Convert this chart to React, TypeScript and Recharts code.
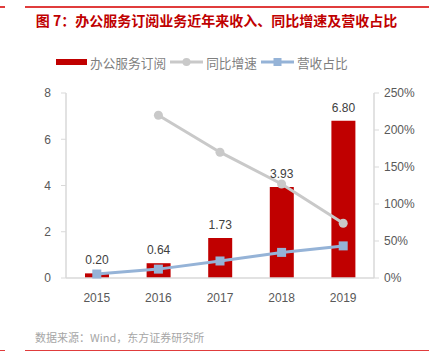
import React from "react";
import {
  ComposedChart, Bar, Line, XAxis, YAxis, LabelList,
} from "recharts";

const years = ["2015", "2016", "2017", "2018", "2019"];
const revenue = [0.2, 0.64, 1.73, 3.93, 6.8];
const yoyGrowth = [null, 2.2, 1.7, 1.27, 0.74];
const revenueShare = [0.054, 0.12, 0.23, 0.346, 0.434];
const leftTicks = [0, 2, 4, 6, 8];
const rightTicks = [0, 0.5, 1, 1.5, 2, 2.5];

const data = years.map((y, i) => ({
  year: y,
  revenue: revenue[i],
  yoy: yoyGrowth[i],
  share: revenueShare[i],
}));

const RED = "#C00000";
const GRAY = "#C9C9C9";
const BLUE = "#95B3D7";
const FONT = "'Liberation Sans', Arial, 'Noto Sans CJK SC', sans-serif";

const SquareDot = (props: any) => {
  const { cx, cy } = props;
  if (cx == null || cy == null) return null;
  return <rect x={cx - 4.5} y={cy - 4.5} width={9} height={9} fill={BLUE} />;
};

export default function App() {
  return (
    <div style={{ position: "fixed", left: 0, top: 0, width: 433, height: 361, background: "#fff", fontFamily: FONT }}>
      <div style={{ position: "absolute", left: 0, top: 6, width: 5, height: 1.5, background: "#E03C3C" }} />
      <div style={{ position: "absolute", left: 25, top: 6, width: 404, height: 1.5, background: "#E03C3C" }} />
      <div style={{ position: "absolute", left: 0, top: 11, width: 433, textAlign: "center", color: "#C00000", fontWeight: "bold", fontSize: 14, fontFamily: "'Noto Sans CJK SC', sans-serif", lineHeight: "18px" }}>
        图 7：办公服务订阅业务近年来收入、同比增速及营收占比
      </div>
      <div style={{ position: "absolute", left: 56, top: 54, height: 16, display: "flex", alignItems: "center", fontSize: 12.7, color: "#7F7F7F", fontFamily: "'Noto Sans CJK SC', sans-serif", whiteSpace: "nowrap" }}>
        <span style={{ display: "inline-block", width: 31, height: 6, background: RED, marginRight: 3 }} />
        <span>办公服务订阅</span>
        <svg width={33} height={10} style={{ margin: "0 3px 0 4px" }}>
          <line x1={0} y1={5} x2={33} y2={5} stroke={GRAY} strokeWidth={3} />
          <circle cx={16.5} cy={5} r={4} fill={GRAY} />
        </svg>
        <span>同比增速</span>
        <svg width={33} height={10} style={{ margin: "0 3px 0 4px" }}>
          <line x1={0} y1={5} x2={33} y2={5} stroke={BLUE} strokeWidth={3} />
          <rect x={12.5} y={1} width={8} height={8} fill={BLUE} />
        </svg>
        <span>营收占比</span>
      </div>
      <div style={{ position: "absolute", left: 0, top: 0 }}>
        <ComposedChart width={433} height={361} data={data} margin={{ top: 93, right: 0, bottom: 53, left: 0 }}>
          <XAxis dataKey="year" axisLine={{ stroke: "#D9D9D9", strokeWidth: 1.5 }} tickLine={false}
            tick={{ fill: "#595959", fontSize: 12, fontFamily: FONT }} tickMargin={9} height={30} />
          <YAxis yAxisId="left" domain={[0, 8]} ticks={leftTicks} width={66}
            axisLine={{ stroke: "#D9D9D9", strokeWidth: 1.5 }} tickLine={{ stroke: "#D9D9D9" }} tickSize={5}
            tick={{ fill: "#595959", fontSize: 12, fontFamily: FONT }} tickMargin={10} />
          <YAxis yAxisId="right" orientation="right" domain={[0, 2.5]} ticks={rightTicks} width={59}
            axisLine={{ stroke: "#D9D9D9", strokeWidth: 1.5 }} tickLine={{ stroke: "#D9D9D9" }} tickSize={5}
            tickFormatter={(v: number) => `${Math.round(v * 100)}%`}
            tick={{ fill: "#595959", fontSize: 12, fontFamily: FONT }} tickMargin={5} />
          <Bar yAxisId="left" dataKey="revenue" fill={RED} barSize={24} isAnimationActive={false}>
            <LabelList dataKey="revenue" position="top" offset={9}
              formatter={(v: any) => Number(v).toFixed(2)}
              style={{ fill: "#404040", fontSize: 12, fontFamily: FONT }} />
          </Bar>
          <Line yAxisId="right" dataKey="yoy" stroke={GRAY} strokeWidth={3} connectNulls={false}
            dot={{ r: 4.5, fill: GRAY, stroke: GRAY, strokeWidth: 0 }} activeDot={false} isAnimationActive={false} />
          <Line yAxisId="right" dataKey="share" stroke={BLUE} strokeWidth={3}
            dot={<SquareDot />} activeDot={false} isAnimationActive={false} />
        </ComposedChart>
      </div>
      <div style={{ position: "absolute", left: 35, top: 329, fontSize: 11, color: "#A6A6A6", fontFamily: "'Noto Sans CJK SC', sans-serif" }}>
        数据来源：Wind，东方证券研究所
      </div>
      <div style={{ position: "absolute", left: 0, top: 349.5, width: 5, height: 1.5, background: "#E03C3C" }} />
      <div style={{ position: "absolute", left: 25, top: 349.5, width: 404, height: 1.5, background: "#E03C3C" }} />
    </div>
  );
}
